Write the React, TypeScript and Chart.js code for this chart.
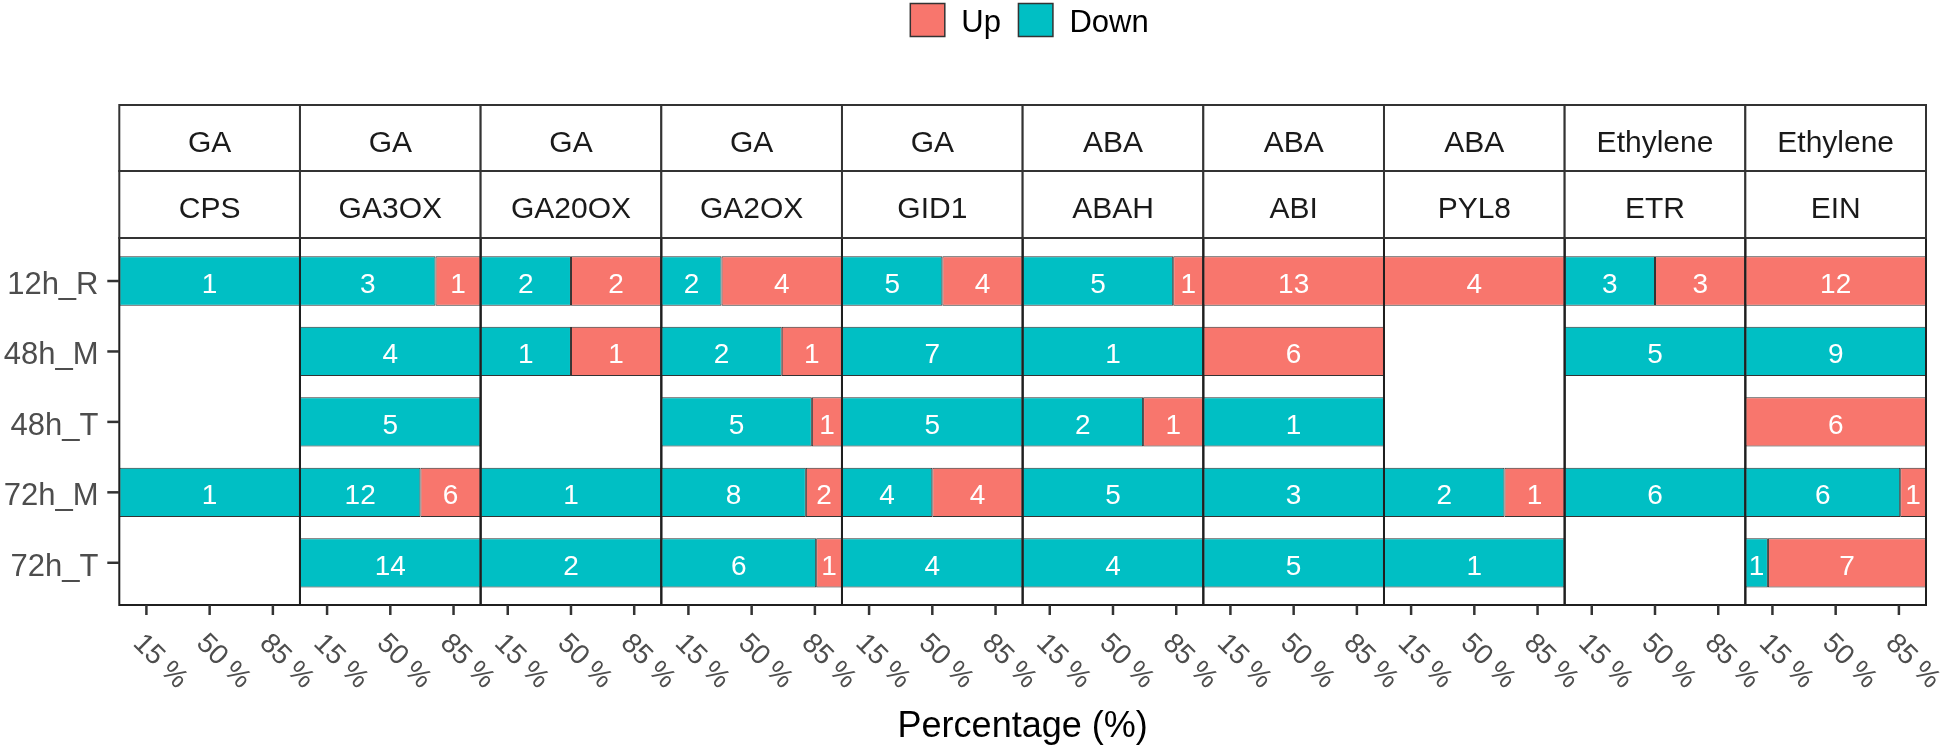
import React, { useEffect, useRef } from "react";
import { Chart, registerables } from "chart.js";

Chart.register(...registerables);

// ---------------- data ----------------
const rows = ["12h_R", "48h_M", "48h_T", "72h_M", "72h_T"];
const groups = ["GA", "GA", "GA", "GA", "GA", "ABA", "ABA", "ABA", "Ethylene", "Ethylene"];
const genes = ["CPS", "GA3OX", "GA20OX", "GA2OX", "GID1", "ABAH", "ABI", "PYL8", "ETR", "EIN"];
// number of down-regulated genes per sample (rows order); null = none
const downCounts: (number | null)[][] = [
  [1, null, null, 1, null], // CPS
  [3, 4, 5, 12, 14], // GA3OX
  [2, 1, null, 1, 2], // GA20OX
  [2, 2, 5, 8, 6], // GA2OX
  [5, 7, 5, 4, 4], // GID1
  [5, 1, 2, 5, 4], // ABAH
  [null, null, 1, 3, 5], // ABI
  [null, null, null, 2, 1], // PYL8
  [3, 5, null, 6, null], // ETR
  [null, 9, null, 6, 1], // EIN
];
// number of up-regulated genes per sample (rows order); null = none
const upCounts: (number | null)[][] = [
  [null, null, null, null, null], // CPS
  [1, null, null, 6, null], // GA3OX
  [2, 1, null, null, null], // GA20OX
  [4, 1, 1, 2, 1], // GA2OX
  [4, null, null, 4, null], // GID1
  [1, null, 1, null, null], // ABAH
  [13, 6, null, null, null], // ABI
  [4, null, null, 1, null], // PYL8
  [3, null, null, null, null], // ETR
  [12, null, 6, 1, 7], // EIN
];
const xTicks = [15, 50, 85];
const legendNames = ["Up", "Down"];
const axisTitle = "Percentage (%)";

// ---------------- style / layout ----------------
const W = 1946;
const H = 748;
const COL_UP = "#F8766D";
const COL_DOWN = "#00BFC4";
const FONT = '"Liberation Sans", Arial, Helvetica, sans-serif';
const PANEL_LEFT = 119.3;
const FACET_W = 180.67;
const PANEL_TOP = 238;
const PANEL_BOTTOM = 605;
const AREA_TOP = 245.8;
const AREA_BOTTOM = 598;
const STRIP_TOP = 105;
const STRIP_MID = 171;

const pct = (a: number | null, b: number | null) =>
  a == null ? null : (a / (a + (b ?? 0))) * 100;

function makePlugin(f: number) {
  return {
    id: "facetDecor" + f,
    afterDatasetsDraw(chart: any) {
      const ctx: CanvasRenderingContext2D = chart.ctx;
      const xs = chart.scales.x;
      const ys = chart.scales.y;
      const left = xs.getPixelForValue(0);
      const right = xs.getPixelForValue(100);
      const cx = (left + right) / 2;
      ctx.save();

      // bar value labels
      ctx.fillStyle = "#FFFFFF";
      ctx.font = `28px ${FONT}`;
      ctx.textAlign = "center";
      ctx.textBaseline = "alphabetic";
      chart.data.datasets.forEach((ds: any, di: number) => {
        const meta = chart.getDatasetMeta(di);
        meta.data.forEach((el: any, i: number) => {
          const c = ds.counts[i];
          if (c == null) return;
          const p = el.getProps(["x", "base", "y"], true);
          ctx.fillText(String(c), (p.x + p.base) / 2, p.y + 12);
        });
      });

      // panel border
      ctx.strokeStyle = "#1f1f1f";
      ctx.lineWidth = 2;
      ctx.strokeRect(left, PANEL_TOP, right - left, PANEL_BOTTOM - PANEL_TOP);

      // strips
      ctx.fillStyle = "#FFFFFF";
      ctx.fillRect(left, STRIP_TOP, right - left, PANEL_TOP - STRIP_TOP);
      ctx.strokeStyle = "#333333";
      ctx.strokeRect(left, STRIP_TOP, right - left, STRIP_MID - STRIP_TOP);
      ctx.strokeRect(left, STRIP_MID, right - left, PANEL_TOP - STRIP_MID);
      ctx.fillStyle = "#1A1A1A";
      ctx.font = `30px ${FONT}`;
      ctx.textAlign = "center";
      ctx.fillText(groups[f], cx, (STRIP_TOP + STRIP_MID) / 2 + 13.5);
      ctx.fillText(genes[f], cx, (STRIP_MID + PANEL_TOP) / 2 + 13.5);

      // x ticks and rotated labels
      ctx.strokeStyle = "#333333";
      ctx.lineWidth = 2.5;
      ctx.fillStyle = "#4D4D4D";
      ctx.font = `28px ${FONT}`;
      ctx.textAlign = "left";
      ctx.textBaseline = "middle";
      xTicks.forEach((t) => {
        const px = xs.getPixelForValue(t);
        ctx.beginPath();
        ctx.moveTo(px, PANEL_BOTTOM);
        ctx.lineTo(px, PANEL_BOTTOM + 10);
        ctx.stroke();
        ctx.save();
        ctx.translate(px - 9, 639);
        ctx.rotate(Math.PI / 4);
        ctx.fillText(`${t} %`, 0, 0);
        ctx.restore();
      });

      if (f === 0) {
        // y axis labels and ticks
        ctx.textAlign = "right";
        ctx.textBaseline = "alphabetic";
        ctx.font = `31px ${FONT}`;
        ctx.fillStyle = "#4D4D4D";
        rows.forEach((r, i) => {
          const py = ys.getPixelForValue(i);
          ctx.beginPath();
          ctx.moveTo(left - 12, py);
          ctx.lineTo(left, py);
          ctx.stroke();
          ctx.fillText(r, 98.5, py + 13);
        });

        // axis title
        ctx.fillStyle = "#000000";
        ctx.font = `36px ${FONT}`;
        ctx.textAlign = "center";
        const panelRight = PANEL_LEFT + FACET_W * genes.length;
        ctx.fillText(axisTitle, (PANEL_LEFT + panelRight) / 2, 737);

        // legend
        ctx.font = `31px ${FONT}`;
        ctx.textAlign = "left";
        const sw = 34.5;
        const gapText = 16.5;
        const gapItem = 17.5;
        const widths = legendNames.map((n) => ctx.measureText(n).width);
        const total =
          legendNames.length * (sw + gapText) +
          widths.reduce((a, b) => a + b, 0) +
          gapItem * (legendNames.length - 1);
        let lx = 1029.5 - total / 2;
        legendNames.forEach((n, i) => {
          ctx.fillStyle = n === "Up" ? COL_UP : COL_DOWN;
          ctx.fillRect(lx, 3.5, sw, 33);
          ctx.strokeStyle = "#333333";
          ctx.lineWidth = 1.5;
          ctx.strokeRect(lx, 3.5, sw, 33);
          lx += sw + gapText;
          ctx.fillStyle = "#000000";
          ctx.fillText(n, lx, 32);
          lx += widths[i] + gapItem;
        });
      }
      ctx.restore();
    },
  };
}

function Facet({ f }: { f: number }) {
  const ref = useRef<HTMLCanvasElement>(null);
  useEffect(() => {
    const left = PANEL_LEFT + f * FACET_W;
    const right = left + FACET_W;
    const downPct = downCounts[f].map((d, i) => pct(d, upCounts[f][i]));
    const upPct = upCounts[f].map((u, i) => pct(u, downCounts[f][i]));
    const chart = new Chart(ref.current as HTMLCanvasElement, {
      type: "bar",
      data: {
        labels: rows,
        datasets: [
          {
            label: "Down",
            data: downPct as any,
            counts: downCounts[f],
            backgroundColor: COL_DOWN,
            borderColor: "#333333",
            borderWidth: 1,
            borderSkipped: false,
          } as any,
          {
            label: "Up",
            data: upPct as any,
            counts: upCounts[f],
            backgroundColor: COL_UP,
            borderColor: "#333333",
            borderWidth: 1,
            borderSkipped: false,
          } as any,
        ],
      },
      options: {
        indexAxis: "y",
        responsive: false,
        animation: false,
        devicePixelRatio: 1,
        events: [],
        layout: {
          padding: {
            left: left,
            right: W - right,
            top: AREA_TOP,
            bottom: H - AREA_BOTTOM,
          },
        },
        datasets: {
          bar: { categoryPercentage: 1, barPercentage: 0.7 },
        },
        scales: {
          x: { type: "linear", min: 0, max: 100, stacked: true, display: false },
          y: { type: "category", stacked: true, offset: true, display: false },
        },
        plugins: {
          legend: { display: false },
          tooltip: { enabled: false },
        },
      },
      plugins: [makePlugin(f)],
    } as any);
    return () => chart.destroy();
  }, [f]);
  return (
    <canvas
      ref={ref}
      width={W}
      height={H}
      style={{ position: "absolute", left: 0, top: 0, width: W, height: H }}
    />
  );
}

export default function App() {
  useEffect(() => {
    document.body.style.margin = "0";
    document.body.style.overflow = "hidden";
  }, []);
  return (
    <div
      style={{
        position: "absolute",
        left: 0,
        top: 0,
        width: W,
        height: H,
        background: "#FFFFFF",
        overflow: "hidden",
      }}
    >
      {genes.map((g, f) => (
        <Facet key={g} f={f} />
      ))}
    </div>
  );
}
